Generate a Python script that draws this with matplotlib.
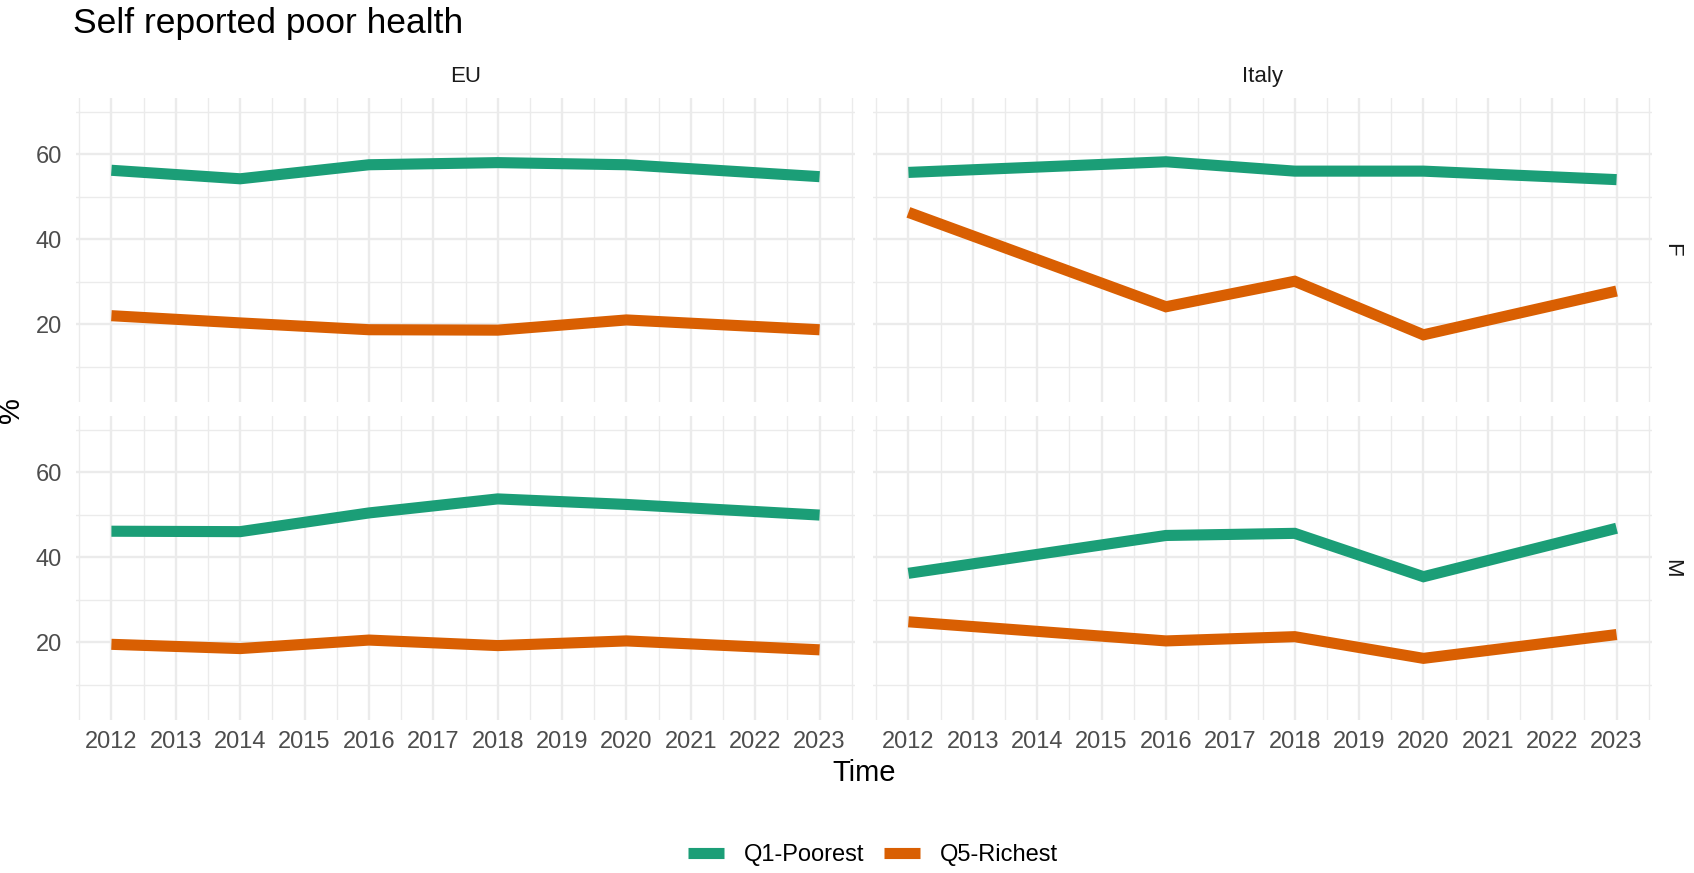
import numpy as np
import matplotlib
matplotlib.use("Agg")
import matplotlib.pyplot as plt
from matplotlib.lines import Line2D

plt.rcParams['font.family'] = ['Liberation Sans', 'DejaVu Sans']

# Data (%)
eu_years = [2012, 2014, 2016, 2018, 2020, 2023]
it_years = [2012, 2016, 2018, 2020, 2023]

eu_f_q1 = [56.2, 54.2, 57.5, 58.0, 57.5, 54.7]
eu_f_q5 = [22.0, 20.3, 18.7, 18.6, 21.0, 18.7]
eu_m_q1 = [46.1, 46.0, 50.4, 53.7, 52.4, 49.9]
eu_m_q5 = [19.5, 18.5, 20.5, 19.2, 20.3, 18.2]

it_f_q1 = [55.7, 58.2, 56.0, 56.0, 54.0]
it_f_q5 = [46.3, 24.1, 30.1, 17.5, 27.8]
it_m_q1 = [36.2, 45.1, 45.6, 35.4, 46.8]
it_m_q5 = [24.8, 20.3, 21.3, 16.2, 21.8]

groups = ['Q1-Poorest', 'Q5-Richest']
colors = ['#1B9E77', '#D95F02']
countries = ['EU', 'Italy']
sexes = ['F', 'M']

panels = {
    ('EU', 'F'): (eu_years, [eu_f_q1, eu_f_q5]),
    ('Italy', 'F'): (it_years, [it_f_q1, it_f_q5]),
    ('EU', 'M'): (eu_years, [eu_m_q1, eu_m_q5]),
    ('Italy', 'M'): (it_years, [it_m_q1, it_m_q5]),
}

W, H = 1694, 873
fig = plt.figure(figsize=(W / 100, H / 100), dpi=100)

col_x = {'EU': 76, 'Italy': 873}
row_y = {'F': 98, 'M': 416}
pw, ph = 779, 304

grid_col = '#EBEBEB'
tick_col = '#4D4D4D'
all_years = list(range(2012, 2024))

for (country, sex), (yrs, series) in panels.items():
    x0, y0 = col_x[country], row_y[sex]
    ax = fig.add_axes([x0 / W, 1 - (y0 + ph) / H, pw / W, ph / H])
    ax.set_xlim(2011.45, 2023.55)
    ax.set_ylim(1.7, 73.2)
    ax.set_xticks(all_years)
    ax.set_xticks([y + 0.5 for y in range(2011, 2024)], minor=True)
    ax.set_yticks([20, 40, 60])
    ax.set_yticks([10, 30, 50, 70], minor=True)
    ax.grid(which='major', color=grid_col, lw=1.7)
    ax.grid(which='minor', color=grid_col, lw=1.0)
    ax.set_axisbelow(True)
    for s in ax.spines.values():
        s.set_visible(False)
    ax.tick_params(which='both', length=0, labelsize=17, labelcolor=tick_col)
    ax.tick_params(axis='x', pad=8)
    ax.tick_params(axis='y', pad=10)
    if sex == 'F':
        ax.set_xticklabels([])
    if country == 'Italy':
        ax.set_yticklabels([])
    for vals, c in zip(series, colors):
        ax.plot(yrs, vals, color=c, lw=8, solid_capstyle='butt', solid_joinstyle='miter')
    if sex == 'F':
        ax.text(0.5, 1 + 21 / ph, country, transform=ax.transAxes, ha='center',
                va='center', fontsize=16, color='#1A1A1A')
    if country == 'Italy':
        ax.text(1 + 20 / pw, 0.5, sex, transform=ax.transAxes, ha='center',
                va='center', fontsize=16, color='#1A1A1A', rotation=-90)

fig.text(73 / W, 1 - 23 / H, 'Self reported poor health', fontsize=25.5,
         ha='left', va='center')
fig.text(864 / W, 1 - 773 / H, 'Time', fontsize=21, ha='center', va='center')
fig.text(11 / W, 1 - 410 / H, '%', fontsize=21, ha='center', va='center', rotation=90)

handles = [Line2D([], [], color=c, lw=8, solid_capstyle='butt') for c in colors]
fig.legend(handles, groups, loc='center', bbox_to_anchor=(873 / W, 1 - 855 / H),
           ncol=2, frameon=False, fontsize=17, handlelength=1.5,
           columnspacing=0.87, handletextpad=0.83)

fig.savefig('out.png', dpi=100)
